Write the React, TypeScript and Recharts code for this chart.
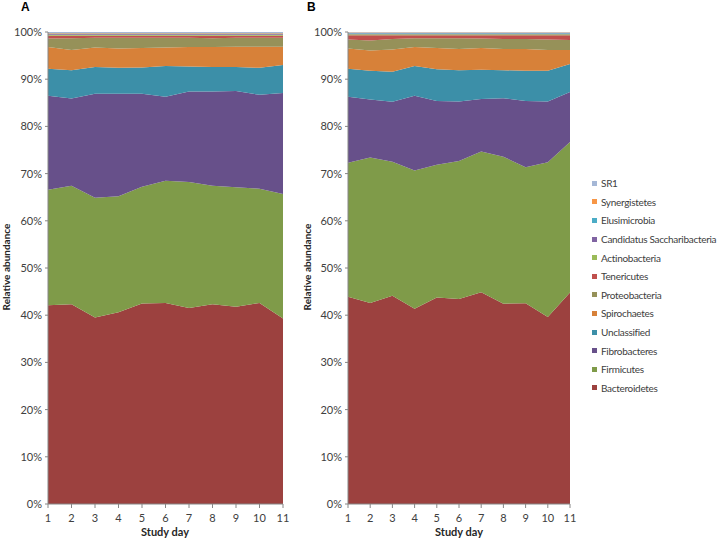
import { AreaChart, Area, XAxis, YAxis } from "recharts";

const days = [1, 2, 3, 4, 5, 6, 7, 8, 9, 10, 11];
const yTicks = [0, 0.1, 0.2, 0.3, 0.4, 0.5, 0.6, 0.7, 0.8, 0.9, 1];

// Panel A (percent of reads per day)
const bacteroidetesA = [42.1, 42.3, 39.5, 40.6, 42.5, 42.6, 41.5, 42.3, 41.8, 42.6, 39.3];
const firmicutesA = [24.5, 25.1, 25.4, 24.6, 24.7, 25.9, 26.7, 25.1, 25.3, 24.2, 26.4];
const fibrobacteresA = [19.9, 18.5, 22.0, 21.7, 19.7, 17.8, 19.2, 20.0, 20.4, 19.9, 21.4];
const unclassifiedA = [5.7, 6.0, 5.7, 5.5, 5.6, 6.5, 5.3, 5.2, 5.1, 5.7, 5.9];
const spirochaetesA = [4.6, 4.3, 4.1, 4.1, 4.1, 3.9, 4.1, 4.2, 4.3, 4.5, 3.9];
const proteobacteriaA = [1.8, 2.5, 2.1, 2.3, 2.2, 2.1, 2.0, 1.9, 1.9, 1.9, 1.9];
const tenericutesA = [0.6, 0.5, 0.4, 0.4, 0.4, 0.4, 0.4, 0.5, 0.4, 0.4, 0.4];
const actinobacteriaA = [0.2, 0.2, 0.2, 0.2, 0.2, 0.2, 0.2, 0.2, 0.2, 0.2, 0.2];
const candidatusA = [0.2, 0.2, 0.2, 0.2, 0.2, 0.2, 0.2, 0.2, 0.2, 0.2, 0.2];
const elusimicrobiaA = [0.1, 0.1, 0.1, 0.1, 0.1, 0.1, 0.1, 0.1, 0.1, 0.1, 0.1];
const synergistetesA = [0.1, 0.1, 0.1, 0.1, 0.1, 0.1, 0.1, 0.1, 0.1, 0.1, 0.1];
const sr1A = [0.2, 0.2, 0.2, 0.2, 0.2, 0.2, 0.2, 0.2, 0.2, 0.2, 0.2];

// Panel B
const bacteroidetesB = [43.9, 42.6, 44.1, 41.3, 43.7, 43.4, 44.8, 42.4, 42.5, 39.6, 44.8];
const firmicutesB = [28.4, 30.8, 28.4, 29.3, 28.1, 29.2, 29.8, 31.1, 28.8, 32.8, 31.9];
const fibrobacteresB = [14.0, 12.3, 12.7, 15.8, 13.5, 12.6, 11.1, 12.4, 14.0, 12.9, 10.6];
const unclassifiedB = [5.9, 6.1, 6.4, 6.3, 6.7, 6.6, 6.2, 5.9, 6.4, 6.5, 5.9];
const spirochaetesB = [4.3, 4.3, 4.7, 4.0, 4.5, 4.5, 4.6, 4.5, 4.6, 4.4, 3.0];
const proteobacteriaB = [1.9, 2.1, 2.2, 1.9, 2.1, 2.3, 2.0, 2.1, 2.1, 2.2, 2.1];
const tenericutesB = [0.9, 1.1, 0.8, 0.6, 0.6, 0.6, 0.7, 0.8, 0.8, 0.9, 1.0];
const actinobacteriaB = [0.2, 0.2, 0.2, 0.2, 0.2, 0.2, 0.2, 0.2, 0.2, 0.2, 0.2];
const candidatusB = [0.2, 0.2, 0.2, 0.2, 0.2, 0.2, 0.2, 0.2, 0.2, 0.2, 0.2];
const elusimicrobiaB = [0.1, 0.1, 0.1, 0.1, 0.1, 0.1, 0.1, 0.1, 0.1, 0.1, 0.1];
const synergistetesB = [0.1, 0.1, 0.1, 0.1, 0.1, 0.1, 0.1, 0.1, 0.1, 0.1, 0.1];
const sr1B = [0.1, 0.1, 0.1, 0.1, 0.1, 0.1, 0.1, 0.1, 0.1, 0.1, 0.1];

// stacking order, bottom to top
const series = [
  { key: "Bacteroidetes", color: "#9c413f" },
  { key: "Firmicutes", color: "#7f9b49" },
  { key: "Fibrobacteres", color: "#67508a" },
  { key: "Unclassified", color: "#3c8fa8" },
  { key: "Spirochaetes", color: "#d78139" },
  { key: "Proteobacteria", color: "#969159" },
  { key: "Tenericutes", color: "#c0504d" },
  { key: "Actinobacteria", color: "#9bbb59" },
  { key: "Candidatus Saccharibacteria", color: "#8064a2" },
  { key: "Elusimicrobia", color: "#4bacc6" },
  { key: "Synergistetes", color: "#f79646" },
  { key: "SR1", color: "#a5b7d6" },
];

const buildRows = (cols: number[][]) =>
  days.map((day, i) => {
    const row: Record<string, number> = { day };
    series.forEach((s, j) => {
      row[s.key] = cols[j][i];
    });
    return row;
  });

const dataA = buildRows([
  bacteroidetesA, firmicutesA, fibrobacteresA, unclassifiedA, spirochaetesA,
  proteobacteriaA, tenericutesA, actinobacteriaA, candidatusA, elusimicrobiaA,
  synergistetesA, sr1A,
]);
const dataB = buildRows([
  bacteroidetesB, firmicutesB, fibrobacteresB, unclassifiedB, spirochaetesB,
  proteobacteriaB, tenericutesB, actinobacteriaB, candidatusB, elusimicrobiaB,
  synergistetesB, sr1B,
]);

const FONT = "Lato, 'Open Sans', sans-serif";
const tickStyle = { fontSize: 11, fill: "#404040", fontFamily: FONT };
const axisGray = "#868686";

function Panel({ data, width }: { data: Record<string, number>[]; width: number }) {
  return (
    <AreaChart
      width={width}
      height={541}
      data={data}
      stackOffset="expand"
      margin={{ top: 32, right: width === 300 ? 17 : 10, bottom: 0, left: 0 }}
    >
      <XAxis
        dataKey="day"
        type="number"
        domain={[1, 11]}
        ticks={days}
        height={37}
        tick={tickStyle}
        tickSize={4}
        tickMargin={6}
        axisLine={{ stroke: axisGray }}
        tickLine={{ stroke: axisGray }}
      />
      <YAxis
        domain={[0, 1]}
        ticks={yTicks}
        width={48}
        tick={tickStyle}
        tickSize={3}
        tickMargin={3}
        axisLine={{ stroke: axisGray }}
        tickLine={{ stroke: axisGray }}
        tickFormatter={(v: number) => `${Math.round(v * 100)}%`}
      />
      {series.map((s) => (
        <Area
          key={s.key}
          dataKey={s.key}
          stackId="1"
          type="linear"
          stroke="none"
          fill={s.color}
          fillOpacity={1}
          isAnimationActive={false}
        />
      ))}
    </AreaChart>
  );
}

const label = (text: string, x: number, y: number, extra: object = {}) => (
  <div
    style={{
      position: "absolute",
      left: x,
      top: y,
      fontFamily: FONT,
      fontWeight: 700,
      fontSize: 11,
      lineHeight: "13px",
      color: "#262626",
      whiteSpace: "nowrap",
      ...extra,
    }}
  >
    {text}
  </div>
);

const panelLetter = { fontSize: 12, lineHeight: "12px", fontFamily: "'Liberation Sans', Arial, sans-serif", color: "#000" };

export default function App() {
  return (
    <div style={{ position: "absolute", left: 0, top: 0, width: 720, height: 541, background: "#fff" }}>
      <div style={{ position: "absolute", left: 0, top: 0 }}>
        <Panel data={dataA} width={300} />
      </div>
      <div style={{ position: "absolute", left: 300, top: 0 }}>
        <Panel data={dataB} width={280} />
      </div>

      {label("A", 21, 1, panelLetter)}
      {label("B", 307, 1, panelLetter)}

      {label("Study day", 165, 525, { transform: "translateX(-50%)" })}
      {label("Study day", 459, 525, { transform: "translateX(-50%)" })}

      {label("Relative abundance", 6, 267, { transform: "translate(-50%, -50%) rotate(-90deg)", fontSize: 10 })}
      {label("Relative abundance", 307, 267, { transform: "translate(-50%, -50%) rotate(-90deg)", fontSize: 10 })}

      <div
        style={{
          position: "absolute",
          left: 592,
          top: 174,
          fontFamily: FONT,
          fontSize: 10,
          letterSpacing: "-0.3px",
          color: "#404040",
        }}
      >
        {[...series].reverse().map((s) => (
          <div key={s.key} style={{ display: "flex", alignItems: "center", height: 18.6, whiteSpace: "nowrap" }}>
            <span style={{ width: 5, height: 5, background: s.color, marginRight: 4, flexShrink: 0 }} />
            {s.key}
          </div>
        ))}
      </div>
    </div>
  );
}
